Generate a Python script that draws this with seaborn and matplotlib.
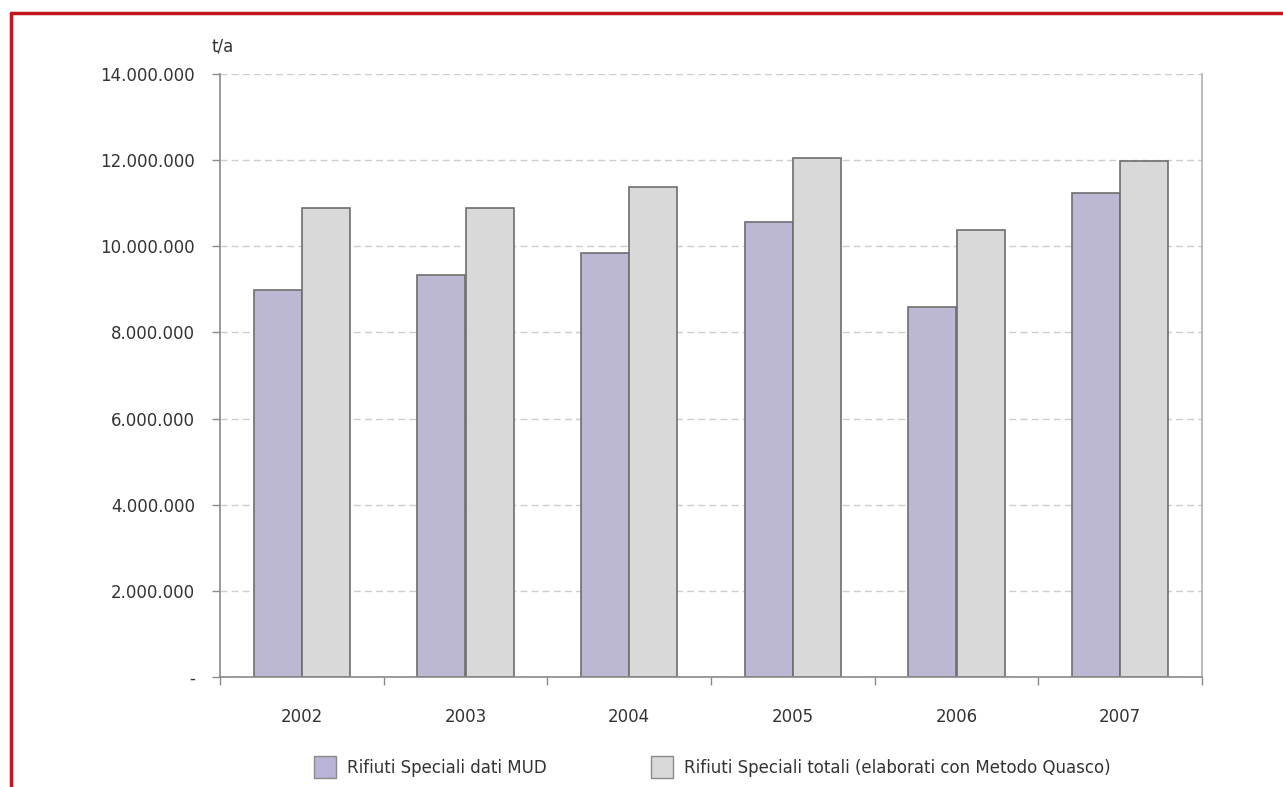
import matplotlib.pyplot as plt
import matplotlib.ticker as mticker
import pandas as pd
import seaborn as sns
from matplotlib.lines import Line2D

anni = ["2002", "2003", "2004", "2005", "2006", "2007"]
serie = ["Rifiuti Speciali dati MUD",
         "Rifiuti Speciali totali (elaborati con Metodo Quasco)"]
mud = [8980000, 9340000, 9840000, 10560000, 8600000, 11240000]
totali = [10900000, 10900000, 11370000, 12060000, 10380000, 11970000]

df = pd.DataFrame({
    "Anno": anni * 2,
    "Serie": [serie[0]] * len(anni) + [serie[1]] * len(anni),
    "Valore": mud + totali,
})

sns.set_style("white")
plt.rcParams["font.family"] = ["DejaVu Sans"]

fig = plt.figure(figsize=(12.83, 7.87), dpi=100)
ax = fig.add_axes([220 / 1283, 1 - 677 / 787, 982 / 1283, 603 / 787])

sns.barplot(
    data=df,
    x="Anno",
    y="Valore",
    hue="Serie",
    palette=["#B9B4D7", "#D9D9D9"],
    edgecolor="#6E6E6E",
    linewidth=1.2,
    width=0.59,
    ax=ax,
)

ax.set_xlim(-0.5, 5.5)
ax.set_ylim(0, 14000000)
ax.set_xlabel("")
ax.set_ylabel("")

# griglia tratteggiata
ax.yaxis.set_major_locator(mticker.MultipleLocator(2000000))
ax.grid(axis="y", color="#CDCDCD", linestyle=(0, (5, 3)), linewidth=1)
ax.set_axisbelow(True)


def fmt_punti(v, pos):
    if v == 0:
        return "-"
    return f"{v:,.0f}".replace(",", ".")


ax.yaxis.set_major_formatter(mticker.FuncFormatter(fmt_punti))

for lato in ["left", "bottom", "right"]:
    ax.spines[lato].set_color("#8A8A8A")
    ax.spines[lato].set_linewidth(1.2)
ax.spines["top"].set_visible(False)
ax.spines["right"].set_color("#B0B0B0")

ax.tick_params(axis="y", which="major", direction="out", length=6, width=1,
               color="#8A8A8A", labelsize=12, labelcolor="#333333", pad=12, left=True)
ax.tick_params(axis="x", which="major", length=0, labelsize=12,
               labelcolor="#333333", pad=22)
ax.set_xticks([i + 0.5 for i in range(-1, len(anni))], minor=True)
ax.tick_params(axis="x", which="minor", direction="out", length=6, width=1,
               color="#8A8A8A", bottom=True)

ax.text(0.003, 1.03, "t/a", transform=ax.transAxes, ha="center", va="bottom",
        fontsize=12, color="#333333")

# legenda sotto il grafico
ax.get_legend().remove()
handles = [
    Line2D([], [], marker="s", linestyle="none", markersize=16,
           markerfacecolor=c, markeredgecolor="#8A8A8A", markeredgewidth=1)
    for c in ["#B9B4D7", "#D9D9D9"]
]
fig.legend(handles, serie, loc="center", bbox_to_anchor=(712 / 1283, 1 - 768 / 787),
           ncol=2, frameon=False, fontsize=12, columnspacing=6.2, handlelength=1.4,
           handletextpad=0.6, labelcolor="#333333")

# cornice rossa
fig.add_artist(Line2D([11 / 1283, 11 / 1283], [0, 1 - 13 / 787], color="#C3161C",
                      linewidth=2.5, transform=fig.transFigure))
fig.add_artist(Line2D([11 / 1283, 1], [1 - 13 / 787, 1 - 13 / 787], color="#C3161C",
                      linewidth=2.5, transform=fig.transFigure))

plt.savefig("out.png", dpi=100)
plt.close()
